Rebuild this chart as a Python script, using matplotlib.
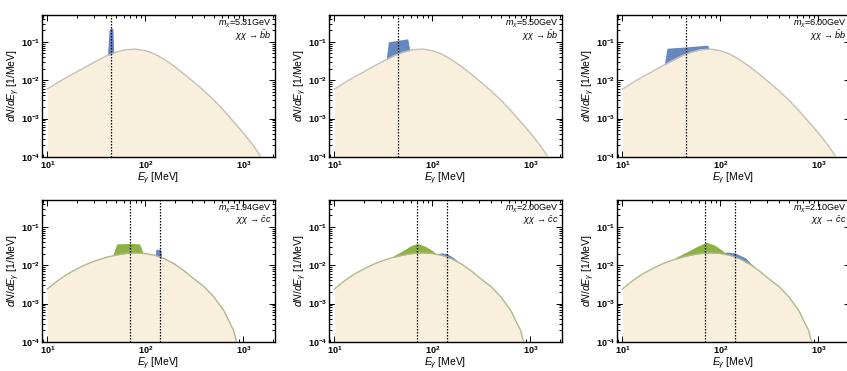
import numpy as np
from matplotlib import pyplot as plt

#==============================================================================
# data

# background spectra
bb_E = [10, 12.6, 15.8, 20, 25.1, 31.6, 39.8, 50.1, 63.1, 79.4, 100, 126, 158, 200, 251,
        316, 398, 501, 631, 794, 1000, 1259, 1514]
bb_y = [0.00589, 0.00851, 0.0120, 0.0166, 0.0229, 0.0316, 0.0427, 0.0537, 0.0624, 0.0646,
        0.0589, 0.0473, 0.0339, 0.0224, 0.0141, 0.0087, 0.00525, 0.00302, 0.00162, 8.3e-4,
        4.2e-4, 2.0e-4, 1e-4]

cc_E = [10, 12.6, 15.8, 20, 25.1, 31.6, 39.8, 50.1, 63.1, 79.4, 100, 126, 158, 200, 251,
        316, 398, 501, 631, 794, 851]
cc_y = [0.0024, 0.00389, 0.00575, 0.00804, 0.0106, 0.0133, 0.016, 0.0184, 0.0202, 0.0209,
        0.0202, 0.018, 0.0146, 0.0106, 0.007, 0.00431, 0.00275, 0.00148, 6.6e-4, 2.0e-4, 1e-4]

masses = ['5.31', '5.50', '6.00', '1.94', '2.00', '2.10']
channels = ['bb', 'bb', 'bb', 'cc', 'cc', 'cc']

# line energies (dotted)
lines_bb = [45]
lines_cc = [70, 140]

# blue overlays (top envelope)
blue_E = [
    [41, 42.5, 44, 46.5, 47.5],
    [34, 35.5, 45, 56, 59],
    [27, 28.5, 45, 74, 78],
    [126, 128, 140, 144, 146],
    [110, 125, 140, 160, 180],
    [100, 120, 140, 180, 215],
]
blue_y = [
    [0.045, 0.20, 0.23, 0.22, 0.05],
    [0.040, 0.10, 0.11, 0.12, 0.055],
    [0.030, 0.068, 0.074, 0.082, 0.055],
    [0.017, 0.026, 0.026, 0.025, 0.016],
    [0.0195, 0.021, 0.020, 0.0165, 0.013],
    [0.0212, 0.022, 0.021, 0.0155, 0.0098],
]

# green overlays (top envelope), only cc
green_E = [
    None, None, None,
    [46, 51, 70, 87, 96],
    [40, 50, 60, 70, 85, 100, 112],
    [35, 45, 58, 72, 88, 105, 120],
]
green_y = [
    None, None, None,
    [0.017, 0.036, 0.037, 0.036, 0.019],
    [0.0175, 0.024, 0.032, 0.037, 0.031, 0.024, 0.019],
    [0.016, 0.022, 0.031, 0.040, 0.033, 0.024, 0.018],
]

#==============================================================================

c_bg = '#f8efdd'
c_edge_bb = '#c6bfb3'
c_edge_cc = '#b2b68c'
c_blue = '#6588c0'
c_green = '#8db243'

plt.rcParams['font.family'] = 'Liberation Sans'
plt.rcParams['mathtext.fontset'] = 'custom'
plt.rcParams['mathtext.it'] = 'Liberation Sans:italic'
plt.rcParams['mathtext.rm'] = 'Liberation Sans'

fig = plt.figure(figsize=(8.47, 3.71), dpi=100)

lefts = [42, 329, 617]
bottoms = [157, 342]
w_ax = 233
h_ax = 142

for n in range(6):
    row = n // 3
    col = n % 3
    ax = fig.add_axes([lefts[col]/847, 1 - bottoms[row]/371, w_ax/847, h_ax/371])

    if channels[n] == 'bb':
        E_bg, y_bg, c_edge, lines = bb_E, bb_y, c_edge_bb, lines_bb
        proc = r'$\chi\chi\,\rightarrow\,\bar{b}b$'
    else:
        E_bg, y_bg, c_edge, lines = cc_E, cc_y, c_edge_cc, lines_cc
        proc = r'$\chi\chi\,\rightarrow\,\bar{c}c$'

    # overlays first, background drawn on top hides their lower part
    ax.fill_between(blue_E[n], 1e-5, blue_y[n], color=c_blue, lw=0, zorder=1)
    if green_E[n] is not None:
        ax.fill_between(green_E[n], 1e-5, green_y[n], color=c_green, lw=0, zorder=1)
    ax.fill_between(E_bg, 1e-5, y_bg, color=c_bg, lw=0, zorder=2)
    ax.plot(E_bg, y_bg, color=c_edge, lw=1.0, zorder=3)

    for e in lines:
        ax.axvline(e, color='k', ls=(0, (1.2, 1.2)), lw=0.9, zorder=4)

    ax.set_xscale('log')
    ax.set_yscale('log')
    ax.set_xlim(8.8, 2100)
    ax.set_ylim(1e-4, 0.5)
    ax.set_xticks([10, 100, 1000])
    ax.set_yticks([1e-4, 1e-3, 1e-2, 1e-1])
    ax.tick_params(which='both', direction='in', top=True, right=True, labelsize=6.5, width=0.7)
    ax.tick_params(which='major', length=4, pad=1.5)
    ax.tick_params(which='minor', length=2)
    for lab in ax.get_xticklabels() + ax.get_yticklabels():
        lab.set_fontweight('bold')
    for sp in ax.spines.values():
        sp.set_linewidth(1.0)

    ax.set_xlabel(r'$E_\gamma$ [MeV]', fontsize=7.5, labelpad=0)
    ax.set_ylabel(r'$dN/dE_\gamma$ [1/MeV]', fontsize=7.5, labelpad=-1)

    ax.text(0.985, 0.94, r'$m_\chi$=%sGeV' % masses[n], transform=ax.transAxes,
            ha='right', va='center', fontsize=6.5)
    ax.text(0.985, 0.855, proc, transform=ax.transAxes, ha='right', va='center', fontsize=6.5)

plt.savefig('out.png', dpi=100)
